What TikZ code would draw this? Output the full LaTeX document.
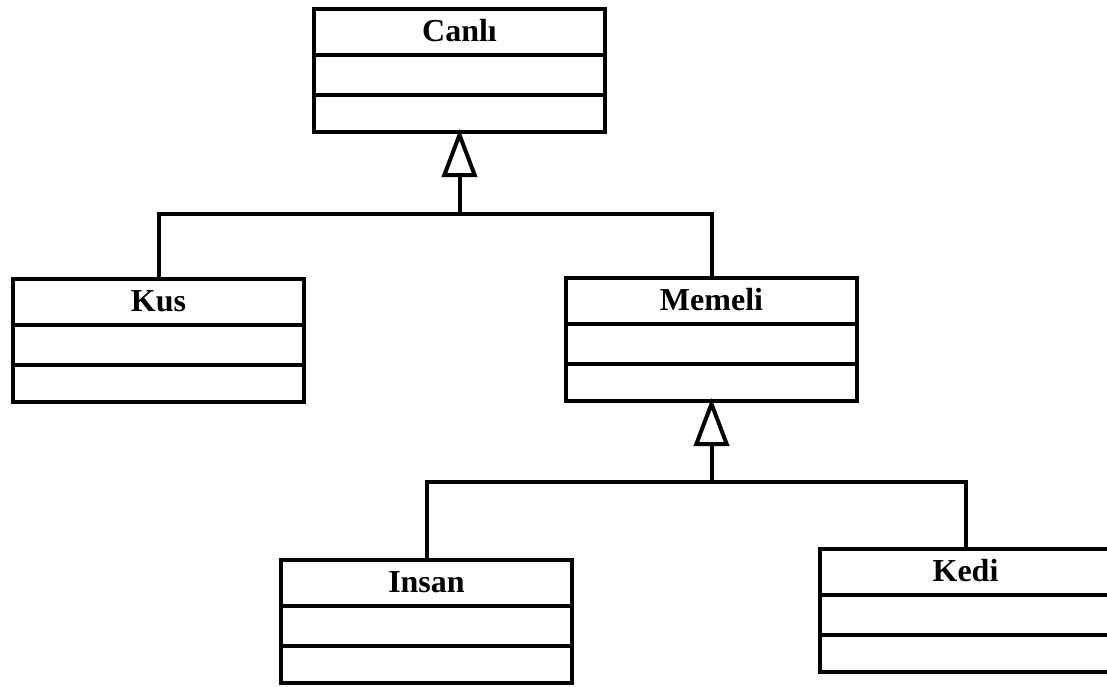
\documentclass[tikz,border=0pt]{standalone}
\usepackage{fontspec}
\setmainfont{Liberation Serif}
\usetikzlibrary{arrows.meta,calc}

\tikzset{
  classbox/.style={draw, line width=4pt, fill=white, anchor=north west,
    minimum width=291pt, minimum height=123pt, inner sep=0pt},
  classname/.style={font=\fontsize{32}{38}\selectfont\bfseries, inner sep=0pt},
  divider/.style={line width=4pt},
  link/.style={line width=4pt},
  inherit/.style={line width=4pt, shorten >=-5pt,
    -{Triangle[open, length=48pt, width=35pt, fill=white]}},
}

% one UML class: box, name in the header, two empty compartments
\newcommand\umlclass[4]{%
  \node[classbox] (#1) at (#2,#3) {};
  \node[classname] (#1-name) at ($(#1.north)+(0,24)$) {#4};
  \draw[divider] ($(#1.north west)+(0,47.5)$) -- ($(#1.north east)+(0,47.5)$);
  \draw[divider] ($(#1.north west)+(0,87.5)$) -- ($(#1.north east)+(0,87.5)$);
}

\begin{document}
\begin{tikzpicture}[x=1pt, y=-1pt]
  \useasboundingbox (0,0) rectangle (1107,686);
  \clip (0,0) rectangle (1107,686);

  \umlclass{canli}{312}{7}{Canlı}
  \umlclass{kus}{11}{277}{Kus}
  \umlclass{memeli}{564}{276}{Memeli}
  \umlclass{insan}{279}{558}{Insan}
  \umlclass{kedi}{818}{547}{Kedi}

  % generalisation: Kus, Memeli -> Canli
  \coordinate (j1) at ($(canli.south)+(0,80)$);
  \draw[link] (kus.north) |- (j1) -| (memeli.north);
  \draw[inherit] (j1) -- (canli.south);

  % generalisation: Insan, Kedi -> Memeli
  \coordinate (j2) at ($(memeli.south)+(0,79)$);
  \draw[link] (insan.north) |- (j2) -| (kedi.north);
  \draw[inherit] (j2) -- (memeli.south);
\end{tikzpicture}
\end{document}
